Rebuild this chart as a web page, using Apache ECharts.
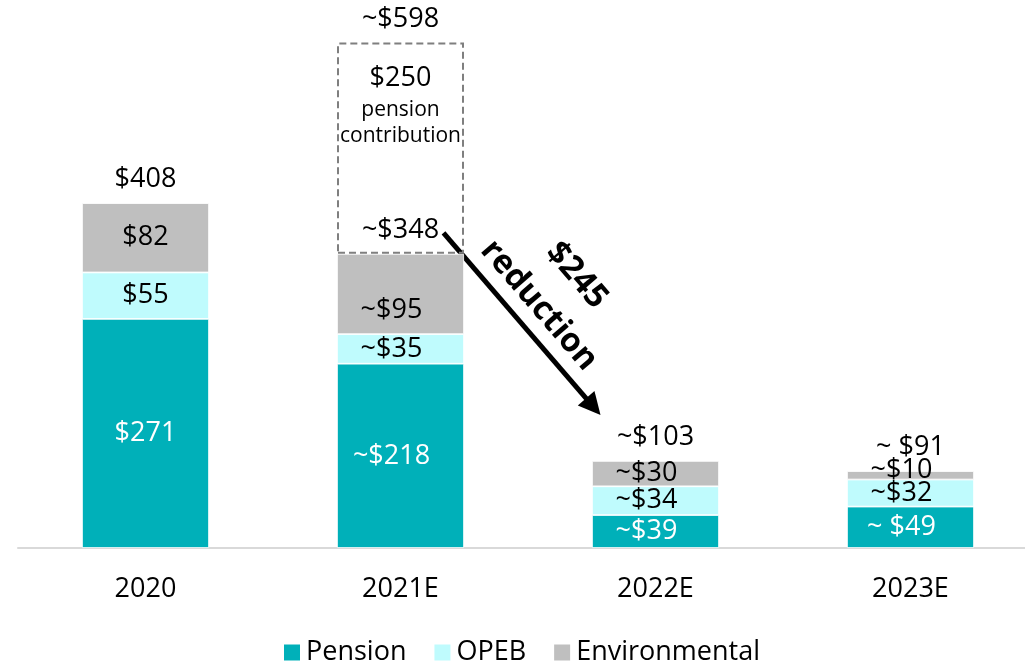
<!DOCTYPE html>
<html>
<head>
<meta charset="utf-8">
<script src="https://cdn.jsdelivr.net/npm/echarts@6/dist/echarts.min.js"></script>
<style>
html,body{margin:0;padding:0;background:#fff;}
#chart{width:1025px;height:665px;}
</style>
</head>
<body>
<div id="chart"></div>
<script>
const categories = ['2020', '2021E', '2022E', '2023E'];
const pension = [271, 218, 39, 49];
const opeb = [55, 35, 34, 32];
const environmental = [82, 95, 30, 10];
const contribution = ['-', 250, '-', '-'];
const pensionLabels = ['$271', '~$218', '~$39', '~ $49'];
const opebLabels = ['$55', '~$35', '~$34', '~$32'];
const envLabels = ['$82', '~$95', '~$30', '~$10'];
const totals = [408, 348, 103, 91];
const totalLabels = ['$408', '~$348', '~$103', '~ $91'];
const contributionTotal = 598;
const contributionTotalLabel = '~$598';
const contributionText = ['$250', 'pension', 'contribution'];
const reductionText = ['$245', 'reduction'];

const FONT = 'Open Sans';
const FS = 27;

function labelOffset(text, extra) {
  const dx = text.startsWith('~') ? -9 : 0;
  return [dx + (extra ? extra[0] : 0), extra ? extra[1] : 0];
}
const envExtra = [null, [0, 16], null, [0, -5]];

function barData(values, labels, color, extras) {
  return values.map((v, i) => ({
    value: v,
    label: {
      formatter: labels[i],
      offset: labelOffset(labels[i], extras ? extras[i] : null),
      color: color
    }
  }));
}

const scatterData = totals.map((v, i) => ({
  value: [i, v],
  label: { formatter: totalLabels[i], offset: labelOffset(totalLabels[i]) }
}));
scatterData.push({
  value: [1, contributionTotal],
  label: { formatter: contributionTotalLabel, offset: labelOffset(contributionTotalLabel) }
});

const chart = echarts.init(document.getElementById('chart'), null, { renderer: 'canvas' });

const common = {
  type: 'bar',
  stack: 'total',
  barWidth: 127,
  itemStyle: { borderColor: '#ffffff', borderWidth: 0.8 },
  label: { show: true, position: 'inside', fontFamily: FONT, fontSize: FS }
};

const option = {
  animation: false,
  backgroundColor: '#ffffff',
  grid: { left: 18, width: 1020, top: 7, bottom: 117, containLabel: false, outerBoundsMode: 'none' },
  legend: {
    data: ['Pension', 'OPEB', 'Environmental'],
    left: 277,
    top: 634,
    itemWidth: 18,
    itemHeight: 18,
    itemGap: 26,
    icon: 'rect',
    textStyle: { fontFamily: FONT, fontSize: FS, color: '#000' }
  },
  xAxis: {
    type: 'category',
    data: categories,
    axisLine: { lineStyle: { color: '#d9d9d9', width: 2 } },
    axisTick: { show: false },
    axisLabel: { color: '#000', fontFamily: FONT, fontSize: FS, margin: 28 }
  },
  yAxis: {
    type: 'value',
    min: 0,
    max: 640,
    show: false,
    splitLine: { show: false }
  },
  series: [
    Object.assign({}, common, {
      name: 'Pension',
      color: '#00B0B9',
      data: barData(pension, pensionLabels, '#ffffff')
    }),
    Object.assign({}, common, {
      name: 'OPEB',
      color: '#BFFBFD',
      data: barData(opeb, opebLabels, '#000000')
    }),
    Object.assign({}, common, {
      name: 'Environmental',
      color: '#BFBFBF',
      data: barData(environmental, envLabels, '#000000', envExtra)
    }),
    {
      type: 'bar',
      name: 'Contribution',
      stack: 'total',
      barWidth: 127,
      data: contribution,
      itemStyle: {
        color: 'rgba(0,0,0,0)',
        borderColor: '#7f7f7f',
        borderWidth: 2,
        borderType: [7, 4]
      },
      label: {
        show: true,
        position: 'insideTop',
        distance: 17,
        fontFamily: FONT,
        formatter: '{a|' + contributionText[0] + '}\n{b|' + contributionText[1] + '}\n{b|' + contributionText[2] + '}',
        rich: {
          a: { fontFamily: FONT, fontSize: FS, lineHeight: 38, color: '#000' },
          b: { fontFamily: FONT, fontSize: 21, lineHeight: 26, color: '#000' }
        }
      }
    },
    {
      type: 'scatter',
      name: 'Totals',
      symbolSize: 2,
      itemStyle: { color: 'rgba(255,255,255,0)', opacity: 1 },
      data: scatterData,
      labelLayout: { hideOverlap: false },
      label: {
        show: true,
        position: 'top',
        distance: 9,
        fontFamily: FONT,
        fontSize: FS,
        color: '#000000',
        opacity: 1
      },
      z: 10
    }
  ]
};
chart.setOption(option);

// Reduction arrow annotation, anchored to the bar positions
const pStart = chart.convertToPixel({ gridIndex: 0 }, [1, totals[1]]);
const pEnd = chart.convertToPixel({ gridIndex: 0 }, [2, totals[2]]);
const sx = pStart[0] + 43, sy = pStart[1] - 21;
const ex = pEnd[0] - 55, ey = pEnd[1] - 46;
const ang = Math.atan2(ey - sy, ex - sx);
const ux = Math.cos(ang), uy = Math.sin(ang);
const nx = uy, ny = -ux; // normal pointing up-right
const headLen = 22, headW = 11;
const bx = ex - ux * headLen, by = ey - uy * headLen;
const mx = (sx + ex) / 2, my = (sy + ey) / 2;

chart.setOption({
  graphic: [
    {
      type: 'line',
      shape: { x1: sx, y1: sy, x2: bx + ux * 2, y2: by + uy * 2 },
      style: { stroke: '#000', lineWidth: 5 },
      silent: true
    },
    {
      type: 'polygon',
      shape: { points: [[ex, ey], [bx + nx * headW, by + ny * headW], [bx - nx * headW, by - ny * headW]] },
      style: { fill: '#000' },
      silent: true
    },
    {
      type: 'text',
      x: mx + nx * 73 - ux * 1,
      y: my + ny * 73 - uy * 1,
      rotation: -ang,
      style: { text: reductionText[0], fontFamily: FONT, fontWeight: 'bold', fontSize: 33, fill: '#000', align: 'center', verticalAlign: 'middle' },
      silent: true
    },
    {
      type: 'text',
      x: mx + nx * 25 - ux * 3,
      y: my + ny * 25 - uy * 3,
      rotation: -ang,
      style: { text: reductionText[1], fontFamily: FONT, fontWeight: 'bold', fontSize: 33, fill: '#000', align: 'center', verticalAlign: 'middle' },
      silent: true
    }
  ]
});
</script>
</body>
</html>
